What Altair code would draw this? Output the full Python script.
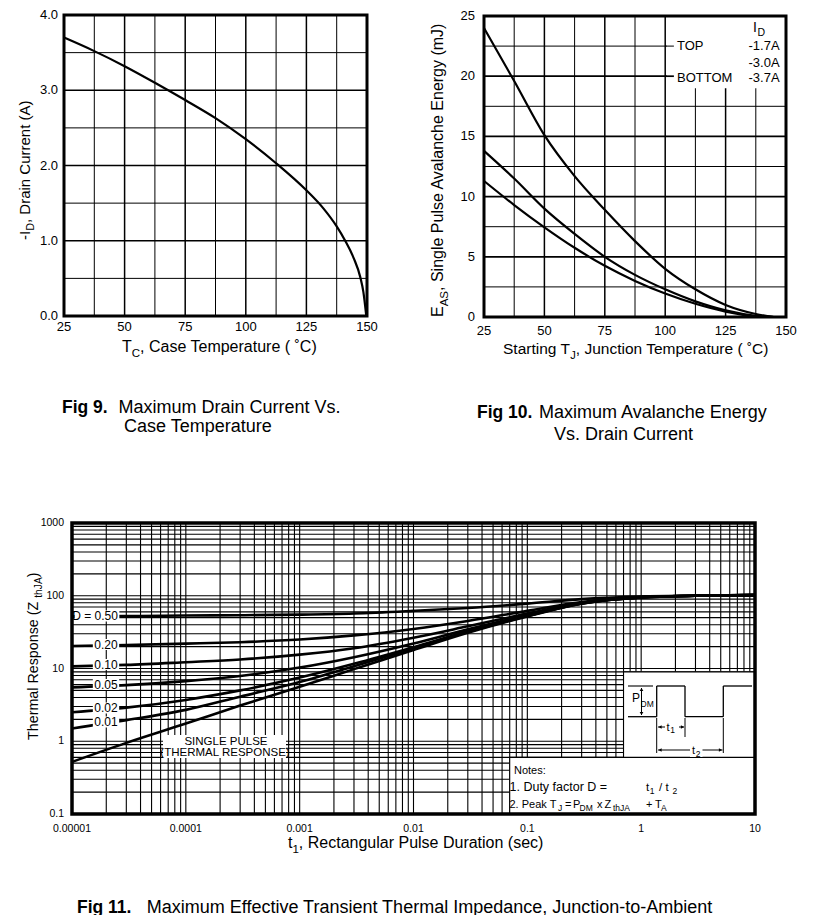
import altair as alt
import pandas as pd

FONT = "Liberation Sans"

# ---------------- Fig 9 : drain current vs case temperature ----------------
fig9_temp = [25, 37.5, 50, 62.5, 75, 87.5, 100, 112.5, 125, 132, 137.5, 141, 144.5, 147.2, 148.5, 149.7]
fig9_current = [3.70, 3.52, 3.32, 3.10, 2.87, 2.63, 2.35, 2.03, 1.67, 1.43, 1.19, 1.00, 0.77, 0.52, 0.32, 0.0]
fig9_grid_x = [25, 37.5, 50, 62.5, 75, 87.5, 100, 112.5, 125, 137.5, 150]
fig9_grid_y = [0, 0.5, 1.0, 1.5, 2.0, 2.5, 3.0, 3.5, 4.0]
fig9_xlab_v = [25, 50, 75, 100, 125, 150]
fig9_xlab_t = ["25", "50", "75", "100", "125", "150"]
fig9_ylab_v = [0, 1, 2, 3, 4]
fig9_ylab_t = ["0.0", "1.0", "2.0", "3.0", "4.0"]

# ---------------- Fig 10 : avalanche energy vs junction temperature ----------------
fig10_temp = [25, 37.5, 50, 62.5, 75, 87.5, 100, 112.5, 125, 137.5, 145]
fig10_series = ["-1.7A", "-3.0A", "-3.7A"]
fig10_legend_pos = ["TOP", "", "BOTTOM"]
fig10_energy_top = [24.0, 19.6, 15.1, 11.7, 8.9, 6.3, 4.0, 2.3, 1.0, 0.25, 0.0]
fig10_energy_mid = [13.8, 11.5, 9.0, 6.9, 5.0, 3.5, 2.3, 1.3, 0.55, 0.1, 0.0]
fig10_energy_bot = [11.3, 9.3, 7.45, 5.75, 4.25, 3.0, 1.95, 1.1, 0.45, 0.05, 0.0]
fig10_grid_x = [25, 37.5, 50, 62.5, 75, 87.5, 100, 112.5, 125, 137.5, 150]
fig10_grid_y = [0, 2.5, 5, 7.5, 10, 12.5, 15, 17.5, 20, 22.5, 25]
fig10_xlab_v = [25, 50, 75, 100, 125, 150]
fig10_xlab_t = ["25", "50", "75", "100", "125", "150"]
fig10_ylab_v = [0, 5, 10, 15, 20, 25]
fig10_ylab_t = ["0", "5", "10", "15", "20", "25"]

# ---------------- Fig 11 : transient thermal impedance ----------------
fig11_t = [1e-5, 3e-5, 1e-4, 3e-4, 1e-3, 3e-3, 1e-2, 3e-2, 0.1, 0.3, 1, 3, 10]
fig11_labels = ["D = 0.50", "0.20", "0.10", "0.05", "0.02", "0.01", "SINGLE PULSE"]
z_d050 = [52, 52.5, 53.5, 54, 55, 57, 62, 68, 78, 90, 97.5, 100, 102]
z_d020 = [20.4, 21, 22, 23, 25, 28.5, 35, 45, 62, 82, 96, 100, 102]
z_d010 = [10.7, 11.2, 12.2, 13.3, 15.5, 19, 26.5, 38, 57, 80, 95.5, 100, 102]
z_d005 = [5.5, 5.9, 6.7, 7.9, 10.3, 14.3, 22.1, 34.5, 54.4, 79, 95, 100, 102]
z_d002 = [2.5, 2.9, 3.7, 5.0, 7.5, 11.6, 19.6, 32.4, 53, 78.4, 95, 100, 102]
z_d001 = [1.5, 1.95, 2.7, 4.1, 6.5, 10.7, 18.8, 31.7, 52.5, 78.2, 95, 100, 102]
z_single = [0.52, 0.95, 1.75, 3.1, 5.6, 9.8, 18, 31, 52, 78, 95, 100, 102]
fig11_grid_x = [m * 10.0 ** e for e in range(-5, 1) for m in range(1, 10)] + [10.0]
fig11_grid_y = [m * 10.0 ** e for e in range(-1, 3) for m in range(1, 10)] + [1000.0]
fig11_xlab_v = [1e-5, 1e-4, 1e-3, 1e-2, 0.1, 1, 10]
fig11_xlab_t = ["0.00001", "0.0001", "0.001", "0.01", "0.1", "1", "10"]
fig11_ylab_v = [0.1, 1, 10, 100, 1000]
fig11_ylab_t = ["0.1", "1", "10", "100", "1000"]

# ---------------- layout (page pixels) ----------------
OFF = 8
CW, CH = 809, 907
P9 = (64, 367, 15, 316)      # x0, x1, y0(top), y1(bottom)
P10 = (484, 786, 16, 317)
P11 = (72, 755, 523, 814)

# ---------------- text helpers (Arial / Liberation Sans advance widths) ----------------
AFM = {' ': 278, ',': 278, '.': 278, '/': 278, ':': 278, '-': 333, '(': 333, ')': 333,
       '=': 584, '+': 584, '˚': 333,
       'A': 667, 'B': 667, 'C': 722, 'D': 722, 'E': 667, 'F': 611, 'G': 778, 'H': 722,
       'I': 278, 'J': 500, 'K': 667, 'L': 556, 'M': 833, 'N': 722, 'O': 778, 'P': 667,
       'R': 722, 'S': 667, 'T': 611, 'U': 722, 'V': 667, 'Z': 611,
       'a': 556, 'b': 556, 'c': 500, 'd': 556, 'e': 556, 'f': 278, 'g': 556, 'h': 556,
       'i': 222, 'j': 222, 'k': 500, 'l': 222, 'm': 833, 'n': 556, 'o': 556, 'p': 556,
       'r': 333, 's': 500, 't': 278, 'u': 556, 'v': 500, 'x': 500, 'y': 500}


def tw(s, size):
    return sum(AFM.get(c, 556) for c in s) * size / 1000.0


def T(text, x, y, size, align="left", base="alphabetic", weight="normal", ang=0):
    return dict(text=text, X=x, Y=y, fs=size, ang=ang, align=align, base=base, weight=weight)


def rich(parts, x, y, size, ang=0):
    rows, pos = [], 0.0
    for text, kind in parts:
        fs = size * 0.72 if kind == "s" else size
        sh = size * 0.3 if kind == "s" else 0.0
        if ang == 0:
            rows.append(T(text, x + pos, y + sh, fs))
        else:
            rows.append(T(text, x + sh, y - pos, fs, ang=270))
        pos += tw(text, fs)
    return rows


# ---------------- panel builders ----------------
def scales(P, xdom, ydom, log=False):
    if log:
        xs = alt.Scale(type="log", domain=xdom, range=[P[0] - OFF, P[1] - OFF], nice=False)
        ys = alt.Scale(type="log", domain=ydom, range=[P[3] - OFF, P[2] - OFF], nice=False)
    else:
        xs = alt.Scale(domain=xdom, range=[P[0] - OFF, P[1] - OFF], nice=False, zero=False)
        ys = alt.Scale(domain=ydom, range=[P[3] - OFF, P[2] - OFF], nice=False, zero=False)
    return xs, ys


def frame(xs, ys, xdom, ydom, gx, gxw, gy, gyw, xl_v, xl_t, yl_v, yl_t, fs, xdy, ydx):
    def XD(v):
        return alt.XDatum(v, type="quantitative", scale=xs, axis=None)

    def YD(v):
        return alt.YDatum(v, type="quantitative", scale=ys, axis=None)

    grid_v = alt.Chart(pd.DataFrame({"v": gx, "w": gxw})).mark_rule(color="black").encode(
        x=alt.X("v:Q", scale=xs, axis=None), y=YD(ydom[0]), y2=alt.Y2Datum(ydom[1]),
        strokeWidth=alt.StrokeWidth("w:Q", scale=None))
    grid_h = alt.Chart(pd.DataFrame({"v": gy, "w": gyw})).mark_rule(color="black").encode(
        y=alt.Y("v:Q", scale=ys, axis=None), x=XD(xdom[0]), x2=alt.X2Datum(xdom[1]),
        strokeWidth=alt.StrokeWidth("w:Q", scale=None))
    xlab = alt.Chart(pd.DataFrame({"v": xl_v, "lab": xl_t})).mark_text(
        font=FONT, fontSize=fs, color="black", baseline="top", align="center", dy=xdy).encode(
        x=alt.X("v:Q", scale=xs, axis=None), y=YD(ydom[0]), text="lab:N")
    ylab = alt.Chart(pd.DataFrame({"v": yl_v, "lab": yl_t})).mark_text(
        font=FONT, fontSize=fs, color="black", baseline="middle", align="right", dx=-ydx).encode(
        y=alt.Y("v:Q", scale=ys, axis=None), x=XD(xdom[0]), text="lab:N")
    return [grid_v, grid_h, xlab, ylab]


def border(xs, ys, xdom, ydom, w):
    return alt.Chart(pd.DataFrame({"a": [0]})).mark_rect(filled=False, color="black", strokeWidth=w).encode(
        x=alt.XDatum(xdom[0], type="quantitative", scale=xs, axis=None), x2=alt.X2Datum(xdom[1]),
        y=alt.YDatum(ydom[0], type="quantitative", scale=ys, axis=None), y2=alt.Y2Datum(ydom[1]))


def annotations(texts=(), rects=(), rules=(), points=()):
    xs = alt.Scale(domain=[0, CW], range=[0, CW], nice=False, zero=False)
    ys = alt.Scale(domain=[0, CH], range=[0, CH], nice=False, zero=False)

    def ex(f):
        return alt.X(f, type="quantitative", scale=xs, axis=None)

    def ey(f):
        return alt.Y(f, type="quantitative", scale=ys, axis=None)

    layers = []
    if rules:
        df = pd.DataFrame([dict(px=a - OFF, py=b - OFF, px2=c - OFF, py2=d - OFF, w=w) for a, b, c, d, w in rules])
        layers.append(alt.Chart(df).mark_rule(color="black").encode(
            x=ex("px"), y=ey("py"), x2=alt.X2("px2"), y2=alt.Y2("py2"),
            strokeWidth=alt.StrokeWidth("w:Q", scale=None)))
    if rects:
        df = pd.DataFrame([dict(px=a - OFF, py=b - OFF, px2=c - OFF, py2=d - OFF) for a, b, c, d in rects])
        layers.append(alt.Chart(df).mark_rect(color="white").encode(
            x=ex("px"), y=ey("py"), x2=alt.X2("px2"), y2=alt.Y2("py2")))
    if points:
        df = pd.DataFrame([dict(px=a - OFF, py=b - OFF, shp=s, sz=z) for a, b, s, z in points])
        layers.append(alt.Chart(df).mark_point(filled=True, color="black", opacity=1).encode(
            x=ex("px"), y=ey("py"), shape=alt.Shape("shp:N", scale=None),
            size=alt.Size("sz:Q", scale=None)))
    if texts:
        df = pd.DataFrame(list(texts))
        df["px"] = df["X"] - OFF
        df["py"] = df["Y"] - OFF
        for (al, bl, wt), g in df.groupby(["align", "base", "weight"], sort=False):
            layers.append(alt.Chart(g[["text", "px", "py", "fs", "ang"]]).mark_text(
                align=al, baseline=bl, fontWeight=wt, font=FONT, color="black").encode(
                x=ex("px"), y=ey("py"), text="text:N",
                size=alt.Size("fs:Q", scale=None), angle=alt.Angle("ang:Q", scale=None)))
    return alt.layer(*layers)


# ================= Fig 9 =================
x9d, y9d = [25, 150], [0, 4]
x9s, y9s = scales(P9, x9d, y9d)
df9 = pd.DataFrame({"T": fig9_temp, "I": fig9_current})
fig9_line = alt.Chart(df9).mark_line(color="black", strokeWidth=2.2, interpolate="monotone").encode(
    x=alt.X("T:Q", scale=x9s, axis=None), y=alt.Y("I:Q", scale=y9s, axis=None))
g9 = alt.layer(*frame(x9s, y9s, x9d, y9d,
                      fig9_grid_x, [1.5 if v % 25 == 0 else 1.0 for v in fig9_grid_x],
                      fig9_grid_y, [1.7 if v % 1 == 0 else 1.0 for v in fig9_grid_y],
                      fig9_xlab_v, fig9_xlab_t, fig9_ylab_v, fig9_ylab_t, 13, 4.5, 6),
               fig9_line, border(x9s, y9s, x9d, y9d, 3))

# ================= Fig 10 =================
x10d, y10d = [25, 150], [0, 25]
x10s, y10s = scales(P10, x10d, y10d)
rows10 = []
for name, vals in zip(fig10_series, [fig10_energy_top, fig10_energy_mid, fig10_energy_bot]):
    for tt, e in zip(fig10_temp, vals):
        rows10.append({"T": tt, "E": e, "series": name})
df10 = pd.DataFrame(rows10)
fig10_lines = alt.Chart(df10).mark_line(color="black", strokeWidth=2.2, interpolate="monotone").encode(
    x=alt.X("T:Q", scale=x10s, axis=None), y=alt.Y("E:Q", scale=y10s, axis=None), detail="series:N")
fig10_box = alt.Chart(pd.DataFrame({"T": [100.6], "T2": [150], "E": [19.0], "E2": [25]})).mark_rect(
    color="white").encode(x=alt.X("T:Q", scale=x10s, axis=None), x2="T2",
                          y=alt.Y("E:Q", scale=y10s, axis=None), y2="E2")
fig10_leaders = alt.Chart(pd.DataFrame({"T": [100, 100], "T2": [103.6, 103.6], "E": [22.5, 20.0],
                                        "w": [1.0, 1.7]})).mark_rule(color="black").encode(
    x=alt.X("T:Q", scale=x10s, axis=None), x2="T2", y=alt.Y("E:Q", scale=y10s, axis=None),
    strokeWidth=alt.StrokeWidth("w:Q", scale=None))
g10 = alt.layer(*frame(x10s, y10s, x10d, y10d,
                       fig10_grid_x, [1.5 if v % 25 == 0 else 1.0 for v in fig10_grid_x],
                       fig10_grid_y, [1.7 if v % 5 == 0 else 1.0 for v in fig10_grid_y],
                       fig10_xlab_v, fig10_xlab_t, fig10_ylab_v, fig10_ylab_t, 13, 7.5, 9),
                fig10_lines, fig10_box, fig10_leaders, border(x10s, y10s, x10d, y10d, 3))

# ================= Fig 11 =================
x11d, y11d = [1e-5, 10], [0.1, 1000]
x11s, y11s = scales(P11, x11d, y11d, log=True)
rows11 = []
for name, vals in zip(fig11_labels, [z_d050, z_d020, z_d010, z_d005, z_d002, z_d001, z_single]):
    for tt, z in zip(fig11_t, vals):
        rows11.append({"t": tt, "Z": z, "D": name})
df11 = pd.DataFrame(rows11)
fig11_boxes = alt.Chart(pd.DataFrame({"t": [0.07, 0.7], "t2": [10, 10], "Z": [0.1, 0.6], "Z2": [0.6, 9]})).mark_rect(
    color="white", stroke="black", strokeWidth=1.1).encode(
    x=alt.X("t:Q", scale=x11s, axis=None), x2="t2", y=alt.Y("Z:Q", scale=y11s, axis=None), y2="Z2")
fig11_lines = alt.Chart(df11).mark_line(color="black", strokeWidth=2.6, interpolate="monotone").encode(
    x=alt.X("t:Q", scale=x11s, axis=None), y=alt.Y("Z:Q", scale=y11s, axis=None), detail="D:N")
g11 = alt.layer(*frame(x11s, y11s, x11d, y11d,
                       fig11_grid_x, [1.1] * len(fig11_grid_x), fig11_grid_y, [1.1] * len(fig11_grid_y),
                       fig11_xlab_v, fig11_xlab_t, fig11_ylab_v, fig11_ylab_t, 10.5, 9.5, 8),
                fig11_boxes, fig11_lines)

# ================= annotations (titles, captions, legend, inset) =================
texts, rects, rules, pts = [], [], [], []
# Fig 9
texts += rich([("-I", "n"), ("D", "s"), (" , Drain Current (A)", "n")], 29.5, 240, 15, ang=270)
texts += rich([("T", "n"), ("C", "s"), (" , Case Temperature  ( ˚C)", "n")], 122, 352, 16)
texts += [T("Fig 9.", 62, 412.5, 17.5, weight="bold"),
          T("Maximum Drain Current Vs.", 118.5, 412.5, 18),
          T("Case Temperature", 124, 431.5, 18)]
# Fig 10
texts += rich([("E", "n"), ("AS", "s"), (" , Single Pulse Avalanche Energy (mJ)", "n")], 443, 317, 16, ang=270)
texts += rich([("Starting T", "n"), ("J", "s"), (", Junction Temperature  ( ˚C)", "n")], 503, 354, 15.5)
texts += [T("I", 753, 31.7, 14), T("D", 757.5, 35.5, 10.5)]
for i, (pos, name) in enumerate(zip(fig10_legend_pos, fig10_series)):
    yy = [50, 66.5, 81.7][i]
    if pos:
        texts.append(T(pos, 677, yy, 13))
    texts.append(T(name, 748.5, yy, 13))
texts += [T("Fig 10.", 477, 418, 17.5, weight="bold"),
          T("Maximum Avalanche Energy", 539, 418, 18),
          T("Vs. Drain Current", 554, 439.5, 18)]
# Fig 11 curve labels
lab_pos = [(95, 616), (106, 644.5), (106, 664.5), (106, 684.5), (106, 708), (106, 722)]
for name, (cx, cy) in zip(fig11_labels[:6], lab_pos):
    w = tw(name, 12)
    rects.append((max(cx - w / 2 - 1.5, 74.5), cy - 5.5, cx + w / 2 + 1.5, cy + 5.5))
    texts.append(T(name, cx, cy, 12, align="center", base="middle"))
rects.append((163, 735, 286, 758))
texts.append(T("SINGLE PULSE", 226, 741.5, 11.5, align="center", base="middle"))
texts.append(T("(THERMAL RESPONSE)", 225, 752.5, 11.5, align="center", base="middle"))
# notes
texts += [T("Notes:", 514, 774, 11),
          T("1. Duty factor D =", 509.5, 790.7, 12.5), T("t", 646, 790.7, 11.5), T("1", 649.8, 793.7, 8.5),
          T("/", 659, 790.7, 11.5), T("t", 665.5, 790.7, 11.5), T("2", 672.5, 793.7, 8.5),
          T("2. Peak T", 509.5, 808, 11), T("J", 558, 811, 8.5), T("=", 565, 808, 11), T("P", 573, 808, 11),
          T("DM", 579.5, 811, 8.5), T("x", 597, 808, 11), T("Z", 604.5, 808, 11), T("thJA", 613, 811, 8.5),
          T("+", 646, 808, 11), T("T", 655, 808, 11), T("A", 661, 811, 8.5)]
# pulse diagram
wave = [(628, 716.7), (656.7, 716.7), (656.7, 686), (685, 686), (685, 716.7), (723.3, 716.7),
        (723.3, 686), (752, 686)]
rules += [(a[0], a[1], b[0], b[1], 1.3) for a, b in zip(wave[:-1], wave[1:])]
rules += [(628, 686, 653, 686, 1.1), (641.5, 688, 641.5, 715, 1.0),
          (656.7, 718, 656.7, 753, 1.0), (685, 718, 685, 737, 1.0), (723.3, 718, 723.3, 753, 1.0),
          (658, 727, 684, 727, 1.0), (658, 750, 722.5, 750, 1.0)]
pts += [(641.5, 689.5, "triangle-up", 14), (641.5, 713.5, "triangle-down", 14),
        (660, 727, "triangle-left", 14), (682.5, 727, "triangle-right", 14),
        (660, 750, "triangle-left", 14), (720.5, 750, "triangle-right", 14)]
rects += [(665, 721, 679, 734), (690, 744, 702.5, 757)]
texts += [T("P", 632, 702, 12), T("DM", 640.5, 706.5, 8.5),
          T("t", 666.5, 730.5, 11), T("1", 670.3, 733, 8.5),
          T("t", 692, 754, 11), T("2", 695.8, 756.5, 8.5)]
# Fig 11 titles & caption
texts += rich([("Thermal Response  (Z", "n"), ("thJA", "s"), (" )", "n")], 38, 740, 14.3, ang=270)
texts += rich([("t", "n"), ("1", "s"), (", Rectangular Pulse Duration (sec)", "n")], 288, 848, 16)
texts += [T("Fig 11.", 77, 912.5, 17.5, weight="bold"),
          T("Maximum Effective Transient Thermal Impedance, Junction-to-Ambient", 146.7, 912.5, 18)]

annot = annotations(texts=texts, rects=rects, rules=rules, points=pts)
border11 = border(x11s, y11s, x11d, y11d, 3.5)

chart = alt.layer(g9, g10, g11, annot, border11).resolve_scale(
    x="independent", y="independent"
).properties(
    width=CW, height=CH, padding=0, autosize=alt.AutoSizeParams(type="none")
).configure_view(strokeOpacity=0)

chart.save("out.html", embed_options={"renderer": "svg", "actions": False})
